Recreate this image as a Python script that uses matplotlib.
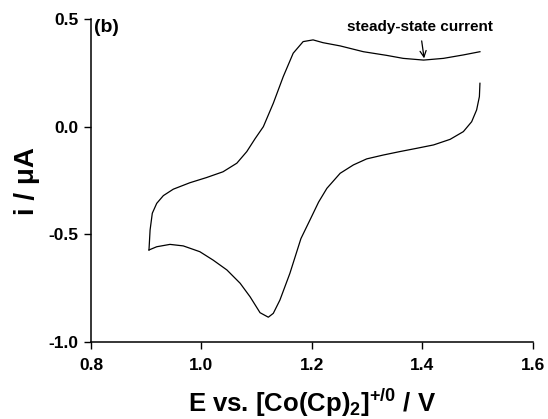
import matplotlib
matplotlib.use("Agg")
import matplotlib.pyplot as plt

# forward sweep (0.9 V -> 1.5 V)
E_FWD = [0.905, 0.907, 0.911, 0.919, 0.931, 0.949, 0.979, 1.009, 1.039, 1.064,
         1.082, 1.097, 1.112, 1.130, 1.148, 1.166, 1.184, 1.202, 1.220, 1.251,
         1.293, 1.335, 1.365, 1.402, 1.438, 1.474, 1.504]
I_FWD = [-0.573, -0.480, -0.402, -0.356, -0.320, -0.290, -0.260, -0.236, -0.209, -0.169,
         -0.115, -0.055, 0.001, 0.110, 0.234, 0.343, 0.397, 0.405, 0.392, 0.377,
         0.350, 0.333, 0.319, 0.311, 0.319, 0.335, 0.350]

# reverse sweep (1.5 V -> 0.9 V)
E_REV = [1.504, 1.503, 1.498, 1.489, 1.474, 1.450, 1.420, 1.389, 1.359, 1.329,
         1.299, 1.275, 1.251, 1.227, 1.212, 1.197, 1.180, 1.160, 1.142, 1.130,
         1.121, 1.106, 1.088, 1.070, 1.046, 1.021, 0.997, 0.967, 0.943, 0.919, 0.905]
I_REV = [0.203, 0.141, 0.079, 0.024, -0.022, -0.058, -0.084, -0.100, -0.115, -0.131,
         -0.149, -0.177, -0.216, -0.286, -0.350, -0.430, -0.520, -0.682, -0.806, -0.868,
         -0.886, -0.865, -0.791, -0.728, -0.666, -0.620, -0.581, -0.554, -0.547, -0.558, -0.573]

X_TICKS = [0.8, 1.0, 1.2, 1.4, 1.6]
Y_TICKS = [-1.0, -0.5, 0.0, 0.5]

plt.rcParams["font.family"] = ["Liberation Sans", "DejaVu Sans"]
plt.rcParams["font.weight"] = "bold"
plt.rcParams["mathtext.fontset"] = "custom"
plt.rcParams["mathtext.rm"] = "Liberation Sans:bold"
plt.rcParams["mathtext.bf"] = "Liberation Sans:bold"
plt.rcParams["mathtext.default"] = "bf"

fig = plt.figure(figsize=(5.48, 4.19), dpi=100)
ax = fig.add_axes([0.166, 0.1845, 0.8066, 0.769])

ax.plot(E_FWD, I_FWD, color="black", linewidth=0.9)
ax.plot(E_REV, I_REV, color="black", linewidth=0.9)

ax.set_xlim(0.8, 1.6)
ax.set_ylim(-1.0, 0.5)
ax.set_xticks(X_TICKS)
ax.set_yticks(Y_TICKS)
ax.set_xticklabels([f"{v:.1f}" for v in X_TICKS])
ax.set_yticklabels([f"{v:.1f}" for v in Y_TICKS])
ax.tick_params(direction="out", length=5, width=1, labelsize=12.5)
ax.tick_params(axis="x", pad=7)
ax.tick_params(axis="y", pad=4)

for side in ("top", "right"):
    ax.spines[side].set_visible(False)
for side in ("left", "bottom"):
    ax.spines[side].set_linewidth(1.1)

ax.set_xlabel(r"E vs. [Co(Cp)$_2$]$^{+/0}$ / V", fontsize=18.5, fontweight="bold", labelpad=10)
ax.set_ylabel("i / μA", fontsize=20, fontweight="bold", labelpad=6)

ax.text(0.806, 0.462, "(b)", fontsize=14, fontweight="bold", va="center", ha="left")
ax.annotate("steady-state current", xy=(1.403, 0.319), xytext=(1.395, 0.465),
            ha="center", va="center", fontsize=11, fontweight="bold",
            arrowprops=dict(arrowstyle="->", color="black", lw=0.9,
                            shrinkA=3, shrinkB=0))

fig.savefig("out.png", dpi=100)
